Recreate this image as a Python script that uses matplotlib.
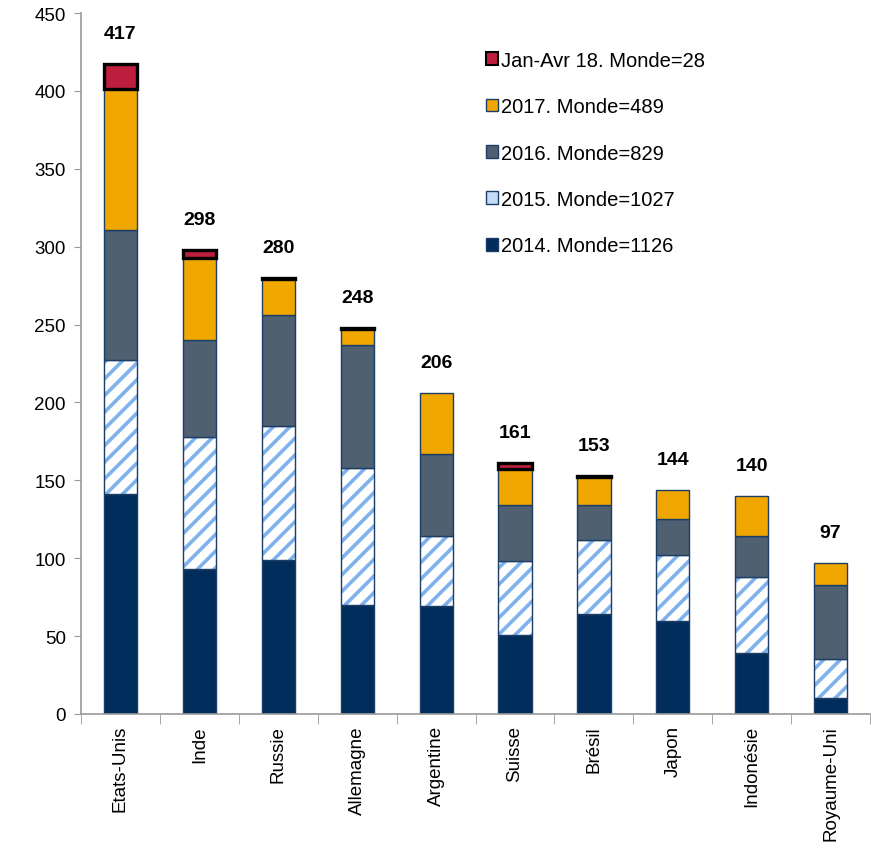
import matplotlib.pyplot as plt
import matplotlib.patches as mpatches
import numpy as np

plt.rcParams['font.family'] = ['Liberation Sans', 'DejaVu Sans']
plt.rcParams['hatch.linewidth'] = 2.6

pays = ['Etats-Unis', 'Inde', 'Russie', 'Allemagne', 'Argentine',
        'Suisse', 'Brésil', 'Japon', 'Indonésie', 'Royaume-Uni']
v2014 = [141, 93, 99, 70, 69, 51, 64, 60, 39, 10]
v2015 = [86, 85, 86, 88, 45, 47, 48, 42, 49, 25]
v2016 = [84, 62, 71, 79, 53, 36, 22, 23, 26, 48]
v2017 = [90, 53, 23, 10, 39, 23, 18, 19, 26, 14]
v2018 = [16, 5, 1, 1, 0, 4, 1, 0, 0, 0]
totaux = [417, 298, 280, 248, 206, 161, 153, 144, 140, 97]

labels = ['2014. Monde=1126', '2015. Monde=1027', '2016. Monde=829',
          '2017. Monde=489', 'Jan-Avr 18. Monde=28']

c2014 = '#002D5B'
c2015 = '#7FB2EC'
c2016 = '#4F6170'
c2017 = '#F0A800'
c2018 = '#BE1E3E'
bord = '#1B3D66'

x = np.arange(len(pays))
w = 0.42

fig = plt.figure(figsize=(8.71, 8.54), dpi=100)
ax = fig.add_subplot(111)
fig.subplots_adjust(left=0.093, right=0.999, top=0.9836, bottom=0.1628)

b0 = np.zeros(len(pays))
ax.bar(x, v2014, w, bottom=b0, color=c2014, edgecolor=bord, linewidth=1)
b1 = b0 + np.array(v2014)
# hatched 2015: blue stripes on white, then dark outline on top
ax.bar(x, v2015, w, bottom=b1, color='white', edgecolor=c2015, hatch='//', linewidth=0)
ax.bar(x, v2015, w, bottom=b1, fill=False, edgecolor=bord, linewidth=1)
b2 = b1 + np.array(v2015)
ax.bar(x, v2016, w, bottom=b2, color=c2016, edgecolor=bord, linewidth=1)
b3 = b2 + np.array(v2016)
ax.bar(x, v2017, w, bottom=b3, color=c2017, edgecolor=bord, linewidth=1)
b4 = b3 + np.array(v2017)
for i in range(len(pays)):
    if v2018[i] > 0:
        ax.bar(x[i], v2018[i], w, bottom=b4[i], color=c2018, edgecolor='black', linewidth=2.4)

for i, t in enumerate(totaux):
    ax.annotate(str(t), (x[i], t), xytext=(0, 22), textcoords='offset points',
                ha='center', va='center', fontsize=14, fontweight='bold')

ax.set_xlim(-0.5, len(pays) - 0.5)
ax.set_ylim(0, 450)
ax.set_yticks(np.arange(0, 451, 50))
ax.set_xticks(x)
ax.set_xticklabels(pays, rotation=90, fontsize=13.5)
ax.tick_params(axis='x', length=0, pad=8)
ax.set_xticks(np.arange(-0.5, len(pays), 1), minor=True)
ax.tick_params(axis='x', which='minor', length=7, color='#999999', direction='out')
ax.tick_params(axis='y', labelsize=13.5, length=5, color='#999999', pad=6)
for s in ['top', 'right']:
    ax.spines[s].set_visible(False)
for s in ['left', 'bottom']:
    ax.spines[s].set_color('#999999')
    ax.spines[s].set_linewidth(1.2)

handles = [
    mpatches.Patch(facecolor=c2018, edgecolor='black', linewidth=1.5),
    mpatches.Patch(facecolor=c2017, edgecolor=bord),
    mpatches.Patch(facecolor=c2016, edgecolor=bord),
    mpatches.Patch(facecolor='#C5DCF6', edgecolor=bord),
    mpatches.Patch(facecolor=c2014, edgecolor=bord),
]
ax.legend(handles, labels[::-1], loc='upper left', bbox_to_anchor=(0.49, 0.972),
          frameon=False, fontsize=14.5, handlelength=0.6, handleheight=0.6,
          handletextpad=0.15, labelspacing=1.36)

fig.savefig('out.png', dpi=100)
